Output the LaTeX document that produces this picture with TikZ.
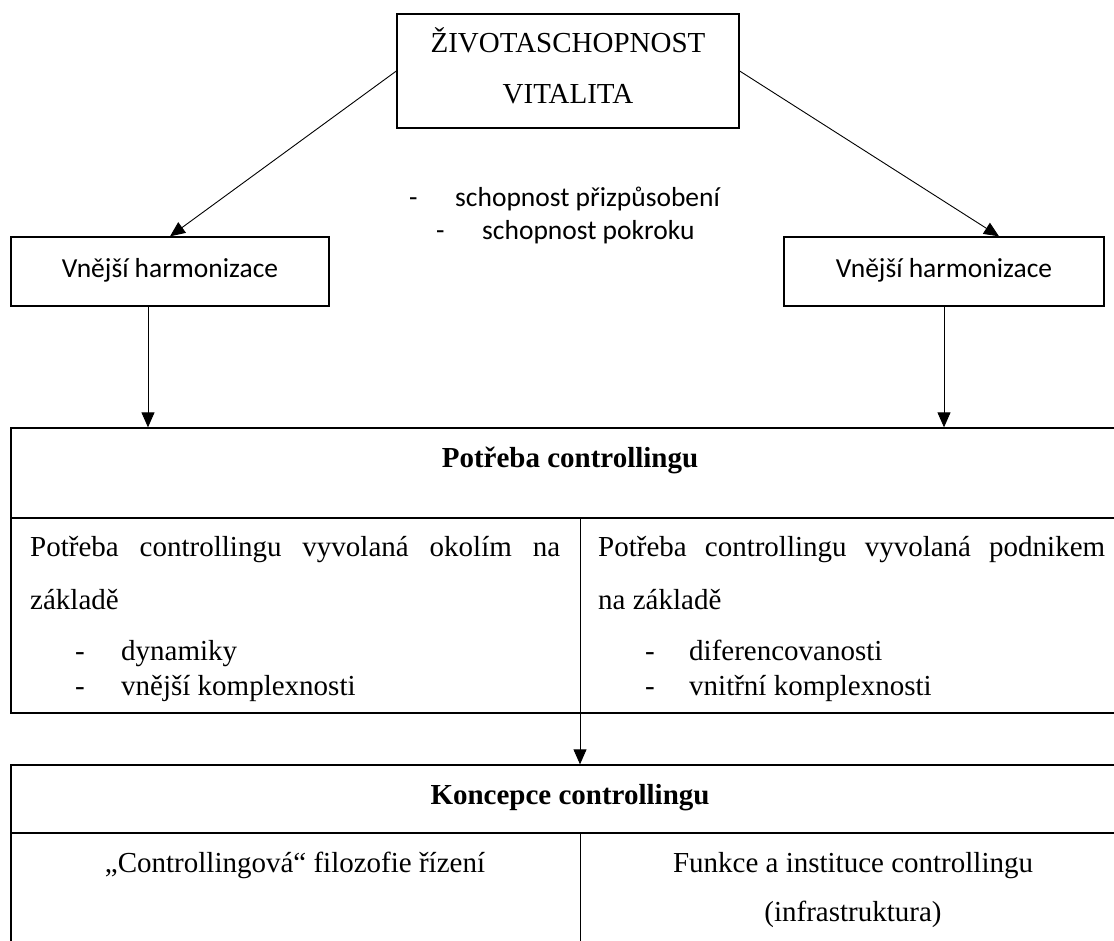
\documentclass[tikz,border=0pt]{standalone}
\usepackage{fontspec}
\setmainfont{Liberation Serif}
\newfontfamily\calibri{Carlito}
\usetikzlibrary{arrows.meta}
\tikzset{
  box/.style={draw, line width=1.3pt, rectangle, inner sep=0pt, anchor=center},
  arr/.style={line width=0.9pt, -{Triangle[length=15pt,width=13pt]}},
  serif/.style={inner sep=0pt, font=\fontsize{29}{35}\selectfont},
  sans/.style={inner sep=0pt, font=\calibri\fontsize{27.5}{33}\selectfont},
}
\begin{document}
\begin{tikzpicture}[x=1pt,y=-1pt]
\useasboundingbox (0,0) rectangle (1114,940);
\clip (0,0) rectangle (1114,940);
% boxes
\node[box, minimum width=342pt, minimum height=114pt] (top) at (568,71) {};
\node[box, minimum width=318pt, minimum height=69pt] (vl) at (170,271.5) {};
\node[box, minimum width=320pt, minimum height=69pt] (vr) at (944,271.5) {};
\node[box, minimum width=1118pt, minimum height=285pt] (big) at (570,570.5) {};
\node[box, minimum width=1118pt, minimum height=215pt] (konc) at (570,872.5) {};
% table lines
\coordinate (d1) at (580,518);
\coordinate (d2) at (580,833);
\draw[line width=1.3pt] (big.west |- d1) -- (big.east |- d1);
\draw[line width=0.9pt] (d1) -- (d1 |- big.south);
\draw[line width=1.3pt] (konc.west |- d2) -- (konc.east |- d2);
\draw[line width=0.9pt] (d2) -- (d2 |- konc.south);
% texts
\node[serif, anchor=base] (t1) at (568,52) {ŽIVOTASCHOPNOST};
\node[serif, anchor=base] (t2) at (568,103) {VITALITA};
\node[sans, anchor=base west] (s1d) at (409,206) {-};
\node[sans, anchor=base west] (s1) at (455,206) {schopnost přizpůsobení};
\node[sans, anchor=base west] (s2d) at (436,239) {-};
\node[sans, anchor=base west] (s2) at (482,239) {schopnost pokroku};
\node[sans, anchor=base] (vlt) at (170,277) {Vnější harmonizace};
\node[sans, anchor=base] (vrt) at (944,277) {Vnější harmonizace};
\node[serif, anchor=base, font=\bfseries\fontsize{29}{35}\selectfont] (pc) at (570,467) {Potřeba controllingu};
\node[serif, anchor=base west] (l1) at (30,556) {\makebox[530pt][s]{Potřeba controllingu vyvolaná okolím na}};
\node[serif, anchor=base west] (l2) at (30,609) {základě};
\node[serif, anchor=base west] (l3d) at (75,660) {-};
\node[serif, anchor=base west] (l3) at (121,660) {dynamiky};
\node[serif, anchor=base west] (l4d) at (75,695) {-};
\node[serif, anchor=base west] (l4) at (121,695) {vnější komplexnosti};
\node[serif, anchor=base west] (r1) at (598,556) {\makebox[507pt][s]{Potřeba controllingu vyvolaná podnikem}};
\node[serif, anchor=base west] (r2) at (598,609) {na základě};
\node[serif, anchor=base west] (r3d) at (645,660) {-};
\node[serif, anchor=base west] (r3) at (689,660) {diferencovanosti};
\node[serif, anchor=base west] (r4d) at (645,695) {-};
\node[serif, anchor=base west] (r4) at (689,695) {vnitřní komplexnosti};
\node[serif, anchor=base, font=\bfseries\fontsize{29}{35}\selectfont] (kc) at (570,804) {Koncepce controllingu};
\node[serif, anchor=base] (k1) at (295,872) {„Controllingová“ filozofie řízení};
\node[serif, anchor=base] (k2) at (853,872) {Funkce a instituce controllingu};
\node[serif, anchor=base] (k3) at (853,921) {(infrastruktura)};
% connectors
\draw[arr] (top.west) -- (vl.north);
\draw[arr] (top.east) -- ([xshift=55pt]vr.north);
\draw[arr] ([xshift=-22pt]vl.south) -- ([xshift=-22pt]vl.south |- big.north);
\draw[arr] (vr.south) -- (vr.south |- big.north);
\draw[arr] (d1 |- big.south) -- (d1 |- konc.north);
\end{tikzpicture}
\end{document}
